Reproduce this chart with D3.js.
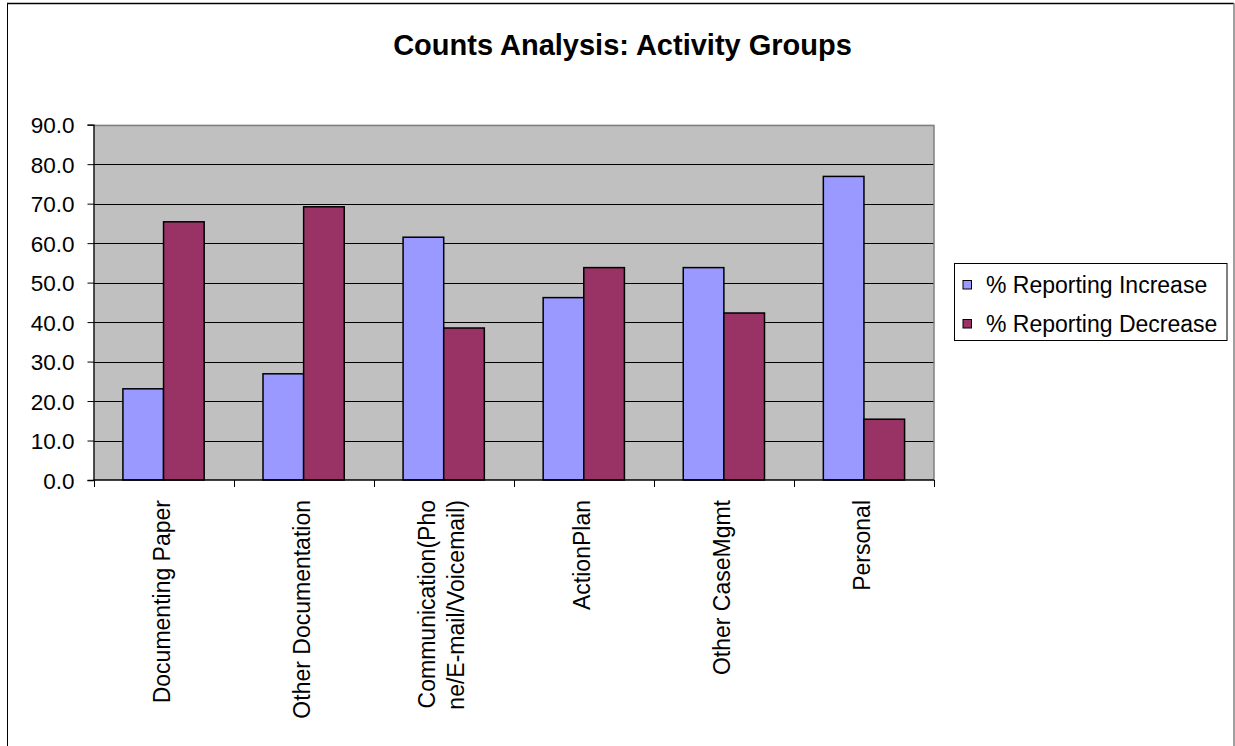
<!DOCTYPE html>
<html>
<head>
<meta charset="utf-8">
<script src="https://cdn.jsdelivr.net/npm/d3@7"></script>
<style>
  html, body { margin: 0; padding: 0; background: #fff; }
  svg { display: block; font-family: Arial, "Liberation Sans", sans-serif; }
</style>
</head>
<body>
<svg id="chart" width="1235" height="746"></svg>
<script>
// Activity groups and the share of respondents reporting each change (%)
const categories = [
  "Documenting Paper",
  "Other Documentation",
  "Communication(Phone/E-mail/Voicemail)",
  "ActionPlan",
  "Other CaseMgmt",
  "Personal"
];
// Wrapped axis labels (one entry per category, lines in order)
const categoryLabels = [
  ["Documenting Paper"],
  ["Other Documentation"],
  ["Communication(Pho", "ne/E-mail/Voicemail)"],
  ["ActionPlan"],
  ["Other CaseMgmt"],
  ["Personal"]
];
const seriesNames = ["% Reporting Increase", "% Reporting Decrease"];
const increase = [23.1, 26.9, 61.5, 46.2, 53.8, 76.9];
const decrease = [65.4, 69.2, 38.5, 53.8, 42.3, 15.4];
const yTicks = [0, 10, 20, 30, 40, 50, 60, 70, 80, 90];
const title = "Counts Analysis: Activity Groups";

const seriesColors = ["#9999FF", "#993366"];
const seriesValues = [increase, decrease];

const svg = d3.select("#chart");
const W = 1235, H = 746;

// Outer chart frame
svg.append("rect").attr("x", 0).attr("y", 0).attr("width", W).attr("height", H).attr("fill", "#fff");
svg.append("line").attr("x1", 7).attr("x2", 1234).attr("y1", 3.5).attr("y2", 3.5).attr("stroke", "#000").attr("stroke-width", 1.5);
svg.append("line").attr("x1", 7.5).attr("x2", 7.5).attr("y1", 3).attr("y2", H).attr("stroke", "#000").attr("stroke-width", 1);
svg.append("line").attr("x1", 1234).attr("x2", 1234).attr("y1", 3).attr("y2", H).attr("stroke", "#808080").attr("stroke-width", 1.5);

const plot = { left: 93.5, right: 934, top: 124.7, bottom: 480 };

const x0 = d3.scaleBand().domain(categories).range([plot.left, plot.right]).paddingInner(0).paddingOuter(0);
const bw = x0.bandwidth();
const x1 = d3.scaleBand().domain(seriesNames).range([bw * 0.21, bw * 0.79]).padding(0);
const y = d3.scaleLinear().domain([0, 90]).range([plot.bottom, plot.top]);

// Plot background
svg.append("rect")
  .attr("x", plot.left).attr("y", plot.top)
  .attr("width", plot.right - plot.left).attr("height", plot.bottom - plot.top)
  .attr("fill", "#C0C0C0");

// Horizontal gridlines
svg.append("g")
  .selectAll("line")
  .data(yTicks.filter(t => t > 0 && t < 90))
  .join("line")
  .attr("x1", plot.left).attr("x2", plot.right)
  .attr("y1", d => Math.round(y(d)) + 0.5).attr("y2", d => Math.round(y(d)) + 0.5)
  .attr("stroke", "#000").attr("stroke-width", 1);

// Plot area border (top and right)
svg.append("path")
  .attr("d", `M${plot.left},${Math.round(plot.top) + 0.5}H${plot.right}V${plot.bottom}`)
  .attr("fill", "none").attr("stroke", "#808080").attr("stroke-width", 1.5);

// Bars
const groups = svg.append("g")
  .selectAll("g")
  .data(categories)
  .join("g")
  .attr("transform", d => `translate(${x0(d)},0)`);

groups.selectAll("rect")
  .data((d, i) => seriesNames.map((s, k) => ({ s, v: seriesValues[k][i], c: seriesColors[k] })))
  .join("rect")
  .attr("x", d => x1(d.s))
  .attr("y", d => y(d.v))
  .attr("width", x1.bandwidth())
  .attr("height", d => y(0) - y(d.v))
  .attr("fill", d => d.c)
  .attr("stroke", "#000")
  .attr("stroke-width", 1.5);

// Y axis
const yAxis = d3.axisLeft(y).tickValues(yTicks).tickSize(6).tickPadding(0).tickFormat(d3.format(".1f"));
const gy = svg.append("g").attr("transform", `translate(${plot.left},0)`).call(yAxis);
gy.select(".domain").attr("stroke", "#000").attr("stroke-width", 1.3);
gy.selectAll(".tick line").attr("stroke", "#000");
gy.selectAll(".tick text").remove();
gy.selectAll(".tick").append("text")
  .attr("x", -19).attr("y", 0).attr("dy", "0.36em")
  .attr("text-anchor", "end")
  .attr("fill", "#000")
  .style("font-size", "22.5px")
  .text(d => d3.format(".1f")(d));

// X axis with ticks on category boundaries
const boundaries = categories.map(c => x0(c)).concat([plot.right]);
svg.append("line")
  .attr("x1", plot.left).attr("x2", plot.right)
  .attr("y1", plot.bottom).attr("y2", plot.bottom)
  .attr("stroke", "#000").attr("stroke-width", 1.5);
svg.append("g").selectAll("line")
  .data(boundaries)
  .join("line")
  .attr("x1", d => Math.round(d) + 0.5).attr("x2", d => Math.round(d) + 0.5)
  .attr("y1", plot.bottom).attr("y2", plot.bottom + 7)
  .attr("stroke", "#000").attr("stroke-width", 1);

// Rotated category labels
const lineGap = 29;
svg.append("g").selectAll("g")
  .data(categories)
  .join("g")
  .each(function (c, i) {
    const lines = categoryLabels[i];
    const cx = x0(c) + bw / 2 - 2;
    const off0 = -(lines.length - 1) * lineGap / 2;
    lines.forEach((ln, j) => {
      d3.select(this).append("text")
        .attr("transform", `translate(${cx + off0 + j * lineGap},500) rotate(-90)`)
        .attr("text-anchor", "end")
        .attr("dy", "0.36em")
        .attr("fill", "#000")
        .style("font-size", "23px")
        .text(ln);
    });
  });

// Title
svg.append("text")
  .attr("x", 622.5).attr("y", 55)
  .attr("text-anchor", "middle")
  .attr("fill", "#000")
  .style("font-size", "29px")
  .style("font-weight", "bold")
  .text(title);

// Legend
const lg = svg.append("g");
lg.append("rect")
  .attr("x", 954.5).attr("y", 263.5).attr("width", 272.5).attr("height", 77)
  .attr("fill", "#fff").attr("stroke", "#000").attr("stroke-width", 1);
const rows = lg.selectAll("g.row")
  .data(seriesNames)
  .join("g")
  .attr("class", "row")
  .attr("transform", (d, i) => `translate(0,${285 + i * 39})`);
rows.append("rect")
  .attr("x", 963).attr("y", -4.5).attr("width", 8.5).attr("height", 8.5)
  .attr("fill", (d, i) => seriesColors[i])
  .attr("stroke", "#000").attr("stroke-width", 1);
rows.append("text")
  .attr("x", 986).attr("y", 0).attr("dy", "0.36em")
  .attr("fill", "#000")
  .style("font-size", "23px")
  .text(d => d);
</script>
</body>
</html>
